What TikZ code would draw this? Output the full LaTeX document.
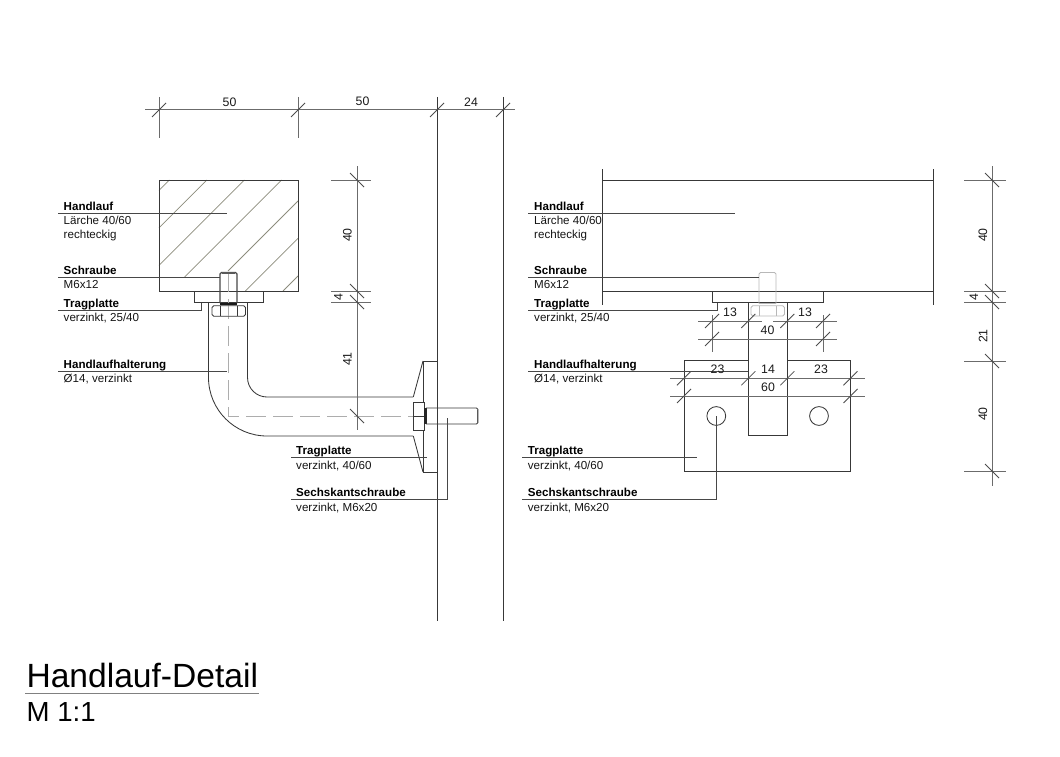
\documentclass[tikz,border=0pt]{standalone}
\usepackage{fontspec}
\setmainfont{Liberation Sans}
\definecolor{hatchc}{HTML}{8C8C7C}
\tikzset{
  ln/.style={line width=0.85pt,draw=black!78},
  dm/.style={line width=1pt,draw=black!58},
  tk/.style={line width=0.8pt,draw=black!70},
  ld/.style={line width=0.9pt,draw=black!72},
  hat/.style={line width=0.75pt,draw=hatchc},
  lt/.style={line width=0.9pt,draw=black!28},
  cen/.style={line width=0.8pt,draw=black!32,dash pattern=on 20pt off 7pt},
  lbl/.style={anchor=base west,inner sep=0pt,font=\fontsize{11.6pt}{12pt}\selectfont,text=black!92},
  lbb/.style={anchor=base west,inner sep=0pt,font=\fontsize{11.6pt}{12pt}\selectfont\bfseries},
  num/.style={inner sep=0pt,font=\fontsize{12.3pt}{13pt}\selectfont,text=black!90},
}
\newcommand{\sh}[2]{\draw[tk] ({#1-7},{#2+7}) -- ({#1+7},{#2-7});}
\newcommand{\sv}[2]{\draw[tk] ({#1-7},{#2-7}) -- ({#1+7},{#2+7});}
\begin{document}
\begin{tikzpicture}[x=1pt,y=-1pt]
\useasboundingbox (0,0) rectangle (1060,757);
% ---------- top dims
\draw[dm] (145,110) -- (515,110);
\draw[dm] (159,97) -- (159,138);
\draw[dm] (298,97) -- (298,138);
\draw[ln] (437,97) -- (437,621);
\draw[ln] (503,97) -- (503,621);
\foreach \x in {159,298,437,503} {\sh{\x}{110}}
\node[num] (t50a) at (229.5,102) {50};
\node[num] (t50b) at (362.5,101.5) {50};
\node[num] (t24) at (471,102.5) {24};
% ---------- left: handrail
\draw[hat] (169.3,180) -- (159,190.3);
\draw[hat] (206.8,180) -- (159,227.8);
\draw[hat] (244.3,180) -- (159,265.3);
\draw[hat] (281.7,180) -- (184.7,277);
\draw[hat] (298,201) -- (228,271);
\draw[hat] (298,238.3) -- (245.3,291);
\draw[hat] (298,276) -- (283,291);
\draw[ln] (159,180) rectangle (298,291);
\draw[ln] (194,291) rectangle (263,302.5);
% bar
\draw[ln] (208.5,302.5) -- (208.5,377.5) .. controls (208.5,409.8) and (234.7,436) .. (267,436) -- (413,436);
\draw[ln] (247.5,302.5) -- (247.5,377.5) .. controls (247.5,388.3) and (256.2,397) .. (267,397) -- (413,397);
\draw[cen] (228,272) -- (228,416) -- (413,416);
% bolt
\draw[line width=1.1pt,draw=black!72,rounded corners=1.5pt] (220,303) -- (220,272.5) -- (237,272.5) -- (237,303);
\draw[line width=1.6pt,draw=black!65] (222,272.7) -- (235,272.7);
\draw[line width=2pt,draw=black!90] (220,303.5) -- (237,303.5);
% nut
\draw[ln,fill=white,rounded corners=1.8pt] (212,305.7) rectangle (245.5,316.3);
\draw[ln] (220,305.7) -- (220,316.3);
\draw[ln] (237,305.7) -- (237,316.3);
\draw[cen] (228,306) -- (228,316);
% wall plate
\draw[ln] (437,361) -- (423,361) -- (423,472) -- (437,472);
\draw[ln] (423,361) -- (413.3,397);
\draw[ln] (413.3,436) -- (423,472);
% bolt horizontal
\draw[ln,fill=white] (413,402.5) rectangle (424,430);
\draw[ln] (413,416) -- (424,416);
\fill[black!85] (424,408) rectangle (426.7,424);
\draw[ln] (426,408) -- (476.5,408) -- (478,409.5) -- (478,422.5) -- (476.5,424) -- (426,424);
\draw[line width=1.2pt,draw=black!65] (477.7,409.5) -- (477.7,422.5);
% left vertical dims
\draw[dm] (357,166) -- (357,430);
\foreach \y in {180,291,302} {\draw[dm] (331,\y) -- (371,\y); \sv{357}{\y}}
\sv{357}{416}
\node[num,rotate=90] (t40a) at (347.5,235) {40};
\node[num,rotate=90] (t4a) at (338.5,297) {4};
\node[num,rotate=90] (t41) at (347.5,359) {41};
% left labels
\draw[ld] (58,213.3) -- (227,213.3);
\node[lbb] (a1) at (63.5,210) {Handlauf};
\node[lbl] (a2) at (63.5,224.5) {Lärche 40/60};
\node[lbl] (a3) at (63.5,238.5) {rechteckig};
\draw[ld] (58,277.3) -- (220,277.3);
\node[lbb] (b1) at (63.5,274.5) {Schraube};
\node[lbl] (b2) at (63.5,288.5) {M6x12};
\draw[ld] (58,310.7) -- (201,310.7) -- (201,302.5);
\node[lbb] (c1) at (63.5,307.5) {Tragplatte};
\node[lbl] (c2) at (63.5,321.7) {verzinkt, 25/40};
\draw[ld] (58,371) -- (227,371);
\node[lbb] (d1) at (63.5,368) {Handlaufhalterung};
\node[lbl] (d2) at (63.5,382) {Ø14, verzinkt};
\draw[ld] (291,457.8) -- (427,457.8);
\node[lbb] (e1) at (296,454.5) {Tragplatte};
\node[lbl] (e2) at (296,469) {verzinkt, 40/60};
\draw[ld] (291,499.7) -- (447.5,499.7) -- (447.5,418);
\node[lbb] (f1) at (296,496.5) {Sechskantschraube};
\node[lbl] (f2) at (296,511) {verzinkt, M6x20};
% ---------- right view
\draw[ln] (602,180) -- (933,180);
\draw[ln] (602,291) -- (933,291);
\draw[ln] (602,169) -- (602,305);
\draw[ln] (933,169) -- (933,305);
\draw[ln] (712,291) rectangle (823,302.5);
% bolt ghost
\draw[lt,rounded corners=1.5pt] (759,303.5) -- (759,272.5) -- (776,272.5) -- (776,303.5);
\draw[lt] (759,303.5) -- (776,303.5);
\draw[lt,rounded corners=1.8pt] (751,305.7) rectangle (784.5,316);
\draw[lt] (759,305.7) -- (759,316);
\draw[lt] (776,305.7) -- (776,316);
% plate and bar
\draw[ln] (748.3,360.7) -- (684,360.7) -- (684,471) -- (850.5,471) -- (850.5,360.7) -- (787.3,360.7);
\draw[ln] (748.3,302.5) -- (748.3,435.3) -- (787.3,435.3) -- (787.3,302.5);
\node[draw=black!78,line width=0.85pt,circle,inner sep=0pt,minimum size=18.8pt] (h1) at (716.3,416) {};
\node[draw=black!78,line width=0.85pt,circle,inner sep=0pt,minimum size=18.8pt] (h2) at (819,416) {};
% right labels
\draw[ld] (528.3,213.5) -- (735,213.5);
\node[lbb] (g1) at (534,210) {Handlauf};
\node[lbl] (g2) at (534,224.5) {Lärche 40/60};
\node[lbl] (g3) at (534,238.5) {rechteckig};
\draw[ld] (528.3,277.3) -- (759,277.3);
\node[lbb] (i1) at (534,274.5) {Schraube};
\node[lbl] (i2) at (534,288.5) {M6x12};
\draw[ld] (528.3,310.7) -- (717,310.7) -- (717,302.5);
\node[lbb] (j1) at (534,307.5) {Tragplatte};
\node[lbl] (j2) at (534,321.7) {verzinkt, 25/40};
\draw[ld] (528.3,371) -- (748.3,371);
\node[lbb] (k1) at (534,368) {Handlaufhalterung};
\node[lbl] (k2) at (534,382) {Ø14, verzinkt};
\draw[ld] (522.3,457.8) -- (696.7,457.8);
\node[lbb] (l1) at (527.7,454.5) {Tragplatte};
\node[lbl] (l2) at (527.7,469) {verzinkt, 40/60};
\draw[ld] (522.3,499.7) -- (716.3,499.7) -- (h1.center);
\node[lbb] (m1) at (527.7,496.5) {Sechskantschraube};
\node[lbl] (m2) at (527.7,511) {verzinkt, M6x20};
% inner dims
\draw[dm] (698,321) -- (762,321);
\draw[dm] (773,321) -- (837,321);
\draw[dm] (698,339) -- (837,339);
\draw[dm] (712,315) -- (712,352);
\draw[dm] (823,315) -- (823,352);
\sh{712}{321}\sh{712}{339}\sh{748.3}{321}\sh{787.3}{321}\sh{823}{321}\sh{823}{339}
\node[num] (n1) at (730,312.5) {13};
\node[num] (n2) at (805,312.5) {13};
\node[num] (n3) at (767.5,330) {40};
\draw[dm] (670,378.3) -- (865,378.3);
\draw[dm] (670,396) -- (865,396);
\sh{684}{378.3}\sh{684}{396}\sh{748.3}{378.3}\sh{787.3}{378.3}\sh{850.5}{378.3}\sh{850.5}{396}
\node[num] (n4) at (717.5,369.5) {23};
\node[num] (n5) at (768,369.5) {14};
\node[num] (n6) at (821,369.5) {23};
\node[num] (n7) at (768,387) {60};
% right dims
\draw[dm] (992,166) -- (992,486);
\foreach \y in {180,291,302,361,471} {\draw[dm] (964,\y) -- (1006,\y); \sv{992}{\y}}
\node[num,rotate=90] (r1) at (983,235) {40};
\node[num,rotate=90] (r2) at (974,297) {4};
\node[num,rotate=90] (r3) at (983,336) {21};
\node[num,rotate=90] (r4) at (983,414) {40};
% title
\node[anchor=base west,inner sep=0pt,font=\fontsize{33.6pt}{34pt}\selectfont] (title) at (26.3,687) {Handlauf-Detail};
\draw[line width=1pt,draw=black!50] (25,693.7) -- (259,693.7);
\node[anchor=base west,inner sep=0pt,font=\fontsize{27.6pt}{30pt}\selectfont] (scale) at (26.5,721.7) {M 1:1};
\end{tikzpicture}
\end{document}
